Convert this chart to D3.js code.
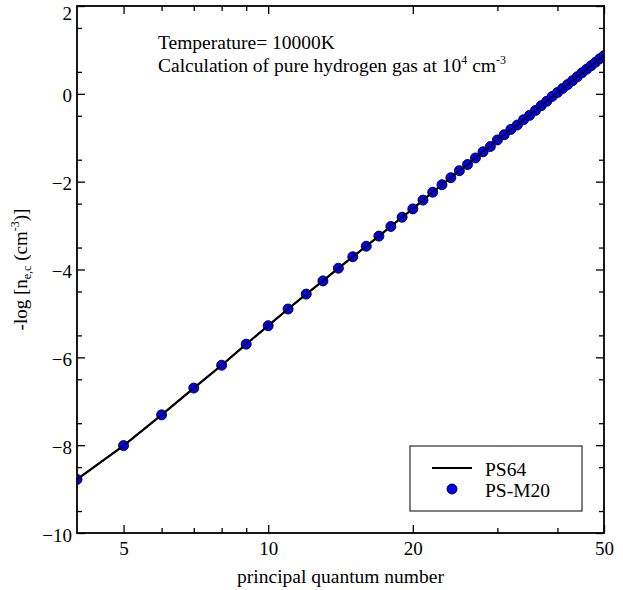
<!DOCTYPE html>
<html>
<head>
<meta charset="utf-8">
<script src="https://cdn.jsdelivr.net/npm/d3@7"></script>
<style>
  body { margin: 0; background: #fff; }
  text { font-family: "Liberation Serif", "DejaVu Serif", serif; fill: #000; }
</style>
</head>
<body>
<div id="chart"></div>
<script>
// principal quantum number n = 4..50
let nLevels = d3.range(4, 51);

// -log n_e,c
let psM20 = [-8.78, -8.01, -7.31, -6.70, -6.18, -5.70, -5.28, -4.90, -4.56, -4.26,
	-3.97, -3.71, -3.47, -3.24, -3.02, -2.81, -2.62, -2.42, -2.24, -2.07,
	-1.91, -1.75, -1.61, -1.46, -1.32, -1.20, -1.05, -0.93, -0.81, -0.71,
	-0.59, -0.49, -0.38, -0.27, -0.17, -0.06, 0.03, 0.12, 0.21, 0.30,
	0.39, 0.48, 0.56, 0.64, 0.72, 0.80, 0.87];
let ps64 = psM20.slice();

let xMajor = [5, 10, 20, 50];
let xMinor = [6, 7, 8, 9, 30, 40];
let yMajor = [-10, -8, -6, -4, -2, 0, 2];
let yMinor = d3.range(-9.5, 2, 1);
let legendNames = ["PS64", "PS-M20"];

let width = 623, height = 590;
let plotLeft = 77, plotRight = 604, plotTop = 6, plotBottom = 533;

let svg = d3.select("#chart").append("svg")
	.attr("width", width)
	.attr("height", height);

let xScale = d3.scaleLog().domain([4, 50]).range([plotLeft, plotRight]);
let yScale = d3.scaleLinear().domain([-10, 2]).range([plotBottom, plotTop]);

// clip so the line / dots stay within the frame
svg.append("defs").append("clipPath").attr("id", "clip")
	.append("rect").attr("x", plotLeft).attr("y", plotTop)
	.attr("width", plotRight - plotLeft).attr("height", plotBottom - plotTop);

let plot = svg.append("g").attr("clip-path", "url(#clip)");

// axes: ticks point inward
function styleAxis(g) {
	g.select(".domain").remove();
	g.selectAll("line").attr("stroke", "#000").attr("stroke-width", 1.3);
	g.selectAll("text").style("font-size", "19px").style("font-family", "Liberation Serif");
}

svg.append("g")
	.attr("transform", `translate(0,${plotBottom})`)
	.call(d3.axisBottom(xScale).tickValues(xMajor).tickSizeInner(-8).tickSizeOuter(0)
		.tickPadding(9).tickFormat(d3.format("d")))
	.call(styleAxis);
svg.append("g")
	.attr("transform", `translate(0,${plotBottom})`)
	.call(d3.axisBottom(xScale).tickValues(xMinor).tickSizeInner(-5).tickSizeOuter(0).tickFormat(""))
	.call(styleAxis);
svg.append("g")
	.attr("transform", `translate(0,${plotTop})`)
	.call(d3.axisTop(xScale).tickValues(xMajor).tickSizeInner(-8).tickSizeOuter(0).tickFormat(""))
	.call(styleAxis);
svg.append("g")
	.attr("transform", `translate(0,${plotTop})`)
	.call(d3.axisTop(xScale).tickValues(xMinor).tickSizeInner(-5).tickSizeOuter(0).tickFormat(""))
	.call(styleAxis);

let yAxisG = svg.append("g")
	.attr("transform", `translate(${plotLeft},0)`)
	.call(d3.axisLeft(yScale).tickValues(yMajor).tickSizeInner(-8).tickSizeOuter(0).tickPadding(5))
	.call(styleAxis);
// labels sit a touch below their ticks; the top one is pushed down to stay on the page
yAxisG.selectAll(".tick text").attr("y", d => d === 2 ? 7 : 2);

svg.append("g")
	.attr("transform", `translate(${plotLeft},0)`)
	.call(d3.axisLeft(yScale).tickValues(yMinor).tickSizeInner(-5).tickSizeOuter(0).tickFormat(""))
	.call(styleAxis);
svg.append("g")
	.attr("transform", `translate(${plotRight},0)`)
	.call(d3.axisRight(yScale).tickValues(yMajor).tickSizeInner(-8).tickSizeOuter(0).tickFormat(""))
	.call(styleAxis);
svg.append("g")
	.attr("transform", `translate(${plotRight},0)`)
	.call(d3.axisRight(yScale).tickValues(yMinor).tickSizeInner(-5).tickSizeOuter(0).tickFormat(""))
	.call(styleAxis);

// PS64 line
let lineData = nLevels.map((n, i) => [n, ps64[i]]);
let line = d3.line().x(d => xScale(d[0])).y(d => yScale(d[1]));
plot.append("path")
	.datum(lineData)
	.attr("d", line)
	.attr("fill", "none")
	.attr("stroke", "#000")
	.attr("stroke-width", 2.2);

// PS-M20 dots
plot.selectAll(".dot")
	.data(nLevels.map((n, i) => [n, psM20[i]]))
	.enter()
	.append("circle")
	.attr("class", "dot")
	.attr("cx", d => xScale(d[0]))
	.attr("cy", d => yScale(d[1]))
	.attr("r", 5)
	.attr("fill", "#0000ff")
	.attr("stroke", "#000")
	.attr("stroke-width", 0.9);

// line again on top of the markers
plot.append("path")
	.datum(lineData)
	.attr("d", line)
	.attr("fill", "none")
	.attr("stroke", "#000")
	.attr("stroke-width", 1.6);

// frame
svg.append("rect")
	.attr("x", plotLeft).attr("y", plotTop)
	.attr("width", plotRight - plotLeft).attr("height", plotBottom - plotTop)
	.attr("fill", "none")
	.attr("stroke", "#000")
	.attr("stroke-width", 1.8);

// annotation
let note = svg.append("g").style("font-size", "19.5px");
note.append("text").attr("x", 158).attr("y", 49).text("Temperature= 10000K");
let note2 = note.append("text").attr("x", 158).attr("y", 72);
note2.append("tspan").text("Calculation of pure hydrogen gas at 10");
note2.append("tspan").attr("dy", -8).style("font-size", "12px").text("4");
note2.append("tspan").attr("dy", 8).text(" cm");
note2.append("tspan").attr("dy", -8).style("font-size", "12px").text("-3");

// axis titles
svg.append("text")
	.attr("x", (plotLeft + plotRight) / 2)
	.attr("y", 583)
	.attr("text-anchor", "middle")
	.style("font-size", "19.5px")
	.text("principal quantum number");

let yTitle = svg.append("text")
	.attr("transform", `translate(27,${(plotTop + plotBottom) / 2}) rotate(-90)`)
	.attr("text-anchor", "middle")
	.style("font-size", "19px");
yTitle.append("tspan").text("-log [n");
yTitle.append("tspan").attr("dy", 4).style("font-size", "12px").text("e,c");
yTitle.append("tspan").attr("dy", -4).text(" (cm");
yTitle.append("tspan").attr("dy", -8).style("font-size", "12px").text("-3");
yTitle.append("tspan").attr("dy", 8).text(")]");

// legend
let legend = svg.append("g");
legend.append("rect")
	.attr("x", 410).attr("y", 446)
	.attr("width", 172).attr("height", 65)
	.attr("fill", "#fff")
	.attr("stroke", "#000")
	.attr("stroke-width", 1);
legend.append("line")
	.attr("x1", 432).attr("x2", 472)
	.attr("y1", 468).attr("y2", 468)
	.attr("stroke", "#000")
	.attr("stroke-width", 2.2);
legend.append("circle")
	.attr("cx", 452).attr("cy", 489).attr("r", 5)
	.attr("fill", "#0000ff")
	.attr("stroke", "#000")
	.attr("stroke-width", 0.9);
legend.selectAll(".legend-label")
	.data(legendNames)
	.enter()
	.append("text")
	.attr("class", "legend-label")
	.attr("x", 485)
	.attr("y", (d, i) => 476 + i * 21)
	.style("font-size", "19.5px")
	.text(d => d);
</script>
</body>
</html>
